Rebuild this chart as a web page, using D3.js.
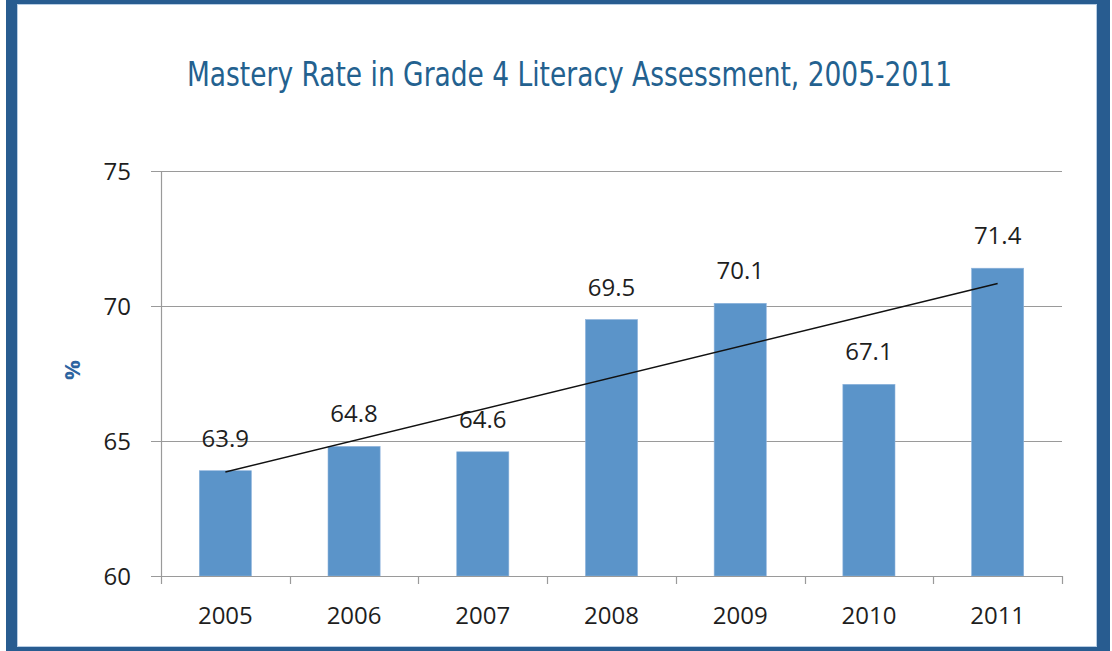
<!DOCTYPE html>
<html>
<head>
<meta charset="utf-8">
<script src="https://cdn.jsdelivr.net/npm/d3@7"></script>
<style>
  html, body { margin: 0; padding: 0; background: #fff; }
  svg { display: block; }
  .tick-label { font-family: "Open Sans", "Noto Sans", sans-serif; font-size: 24px; fill: #1e1e1e; }
</style>
</head>
<body>
<div id="chart"></div>
<script>
const years = ["2005", "2006", "2007", "2008", "2009", "2010", "2011"];
const rates = [63.9, 64.8, 64.6, 69.5, 70.1, 67.1, 71.4];
const yTicks = [60, 65, 70, 75];
const titleText = "Mastery Rate in Grade 4 Literacy Assessment, 2005-2011";

const width = 1112;
const height = 651;
const plot = { left: 161, right: 1062, top: 171, bottom: 576 };

const svg = d3
  .select("#chart")
  .append("svg")
  .attr("width", width)
  .attr("height", height);

// frame
svg.append("rect")
  .attr("x", 6).attr("y", 0)
  .attr("width", 1104).attr("height", 651)
  .attr("fill", "#285c90");
svg.append("rect")
  .attr("x", 17.5).attr("y", 4.5)
  .attr("width", 1079).attr("height", 642)
  .attr("fill", "#fff")
  .attr("stroke", "#b7cde4")
  .attr("stroke-width", 1);

svg.append("text")
  .attr("x", 187)
  .attr("y", 86)
  .attr("textLength", 765)
  .attr("lengthAdjust", "spacingAndGlyphs")
  .style("font-family", '"DejaVu Sans Condensed", "Liberation Sans Narrow", "Open Sans", sans-serif')
  .style("font-size", "33px")
  .attr("fill", "#23618f")
  .text(titleText);

const x = d3.scaleBand().domain(years).range([plot.left, plot.right]).paddingInner(0).paddingOuter(0);
const y = d3.scaleLinear().domain([60, 75]).range([plot.bottom, plot.top]);
const barW = x.bandwidth() * 0.405;

// gridlines
svg.append("g")
  .selectAll("line")
  .data(yTicks)
  .join("line")
  .attr("x1", plot.left - 10)
  .attr("x2", plot.right)
  .attr("y1", (d) => Math.round(y(d)) + 0.5)
  .attr("y2", (d) => Math.round(y(d)) + 0.5)
  .attr("stroke", "#9a9a9a")
  .attr("stroke-width", 1.2);

// y axis line
svg.append("line")
  .attr("x1", plot.left + 0.5).attr("x2", plot.left + 0.5)
  .attr("y1", plot.top).attr("y2", plot.bottom)
  .attr("stroke", "#9a9a9a").attr("stroke-width", 1.2);

// y tick labels
svg.append("g")
  .selectAll("text")
  .data(yTicks)
  .join("text")
  .attr("class", "tick-label")
  .attr("x", 131)
  .attr("y", (d) => y(d))
  .attr("dy", "0.36em")
  .attr("text-anchor", "end")
  .text((d) => d);

// y axis title
svg.append("text")
  .attr("transform", "translate(80,370) rotate(-90)")
  .attr("text-anchor", "middle")
  .style("font-family", '"Open Sans", sans-serif')
  .style("font-size", "22px")
  .style("font-weight", "bold")
  .attr("fill", "#2d64a0")
  .text("%");

// bars
svg.append("g")
  .selectAll("rect")
  .data(rates)
  .join("rect")
  .attr("x", (d, i) => x(years[i]) + (x.bandwidth() - barW) / 2)
  .attr("y", (d) => y(d))
  .attr("width", barW)
  .attr("height", (d) => y(60) - y(d))
  .attr("fill", "#5b94c9")
  .attr("stroke", "#8fb4dc")
  .attr("stroke-width", 0.6);

// x axis
svg.append("line")
  .attr("x1", plot.left).attr("x2", plot.right)
  .attr("y1", plot.bottom + 0.5).attr("y2", plot.bottom + 0.5)
  .attr("stroke", "#9a9a9a").attr("stroke-width", 1.2);
svg.append("g")
  .selectAll("line")
  .data(years.concat(["end"]))
  .join("line")
  .attr("x1", (d, i) => Math.round(plot.left + i * x.step()) + 0.5)
  .attr("x2", (d, i) => Math.round(plot.left + i * x.step()) + 0.5)
  .attr("y1", plot.bottom)
  .attr("y2", plot.bottom + 8)
  .attr("stroke", "#9a9a9a").attr("stroke-width", 1.2);

svg.append("g")
  .selectAll("text")
  .data(years)
  .join("text")
  .attr("class", "tick-label")
  .attr("x", (d) => x(d) + x.bandwidth() / 2)
  .attr("y", 624)
  .attr("text-anchor", "middle")
  .text((d) => d);

// value labels
svg.append("g")
  .selectAll("text")
  .data(rates)
  .join("text")
  .attr("class", "tick-label")
  .attr("x", (d, i) => x(years[i]) + x.bandwidth() / 2)
  .attr("y", (d) => y(d) - 24)
  .attr("text-anchor", "middle")
  .text((d) => d3.format(".1f")(d));

// linear trendline (least squares over index)
const idx = rates.map((d, i) => i);
const mx = d3.mean(idx);
const my = d3.mean(rates);
const slope =
  d3.sum(idx, (i) => (i - mx) * (rates[i] - my)) /
  d3.sum(idx, (i) => (i - mx) ** 2);
const intercept = my - slope * mx;
const trend = [0, years.length - 1].map((i) => [
  x(years[i]) + x.bandwidth() / 2,
  y(intercept + slope * i),
]);
svg.append("path")
  .attr("d", d3.line()(trend))
  .attr("fill", "none")
  .attr("stroke", "#111")
  .attr("stroke-width", 1.5);
</script>
</body>
</html>
